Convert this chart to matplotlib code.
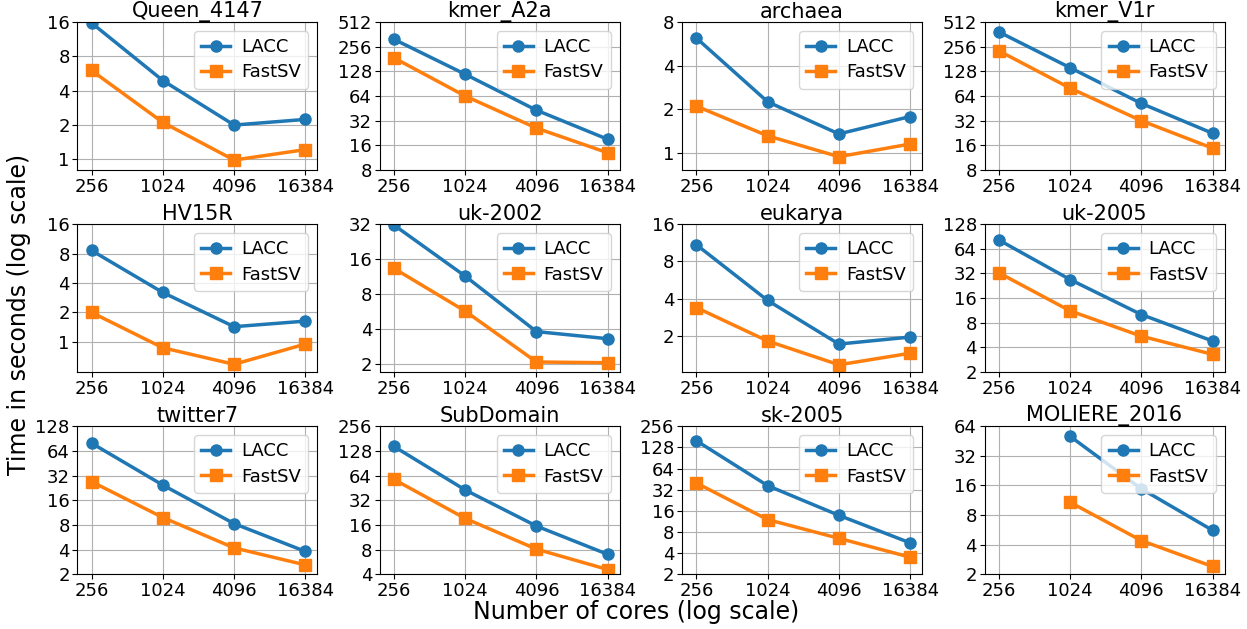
import numpy as np
import matplotlib
matplotlib.use("Agg")
import matplotlib.pyplot as plt
from matplotlib.ticker import FuncFormatter, NullLocator, FixedLocator

cores = [256, 1024, 4096, 16384]
graphs = ["Queen_4147", "kmer_A2a", "archaea", "kmer_V1r",
          "HV15R", "uk-2002", "eukarya", "uk-2005",
          "twitter7", "SubDomain", "sk-2005", "MOLIERE_2016"]

# seconds (nan = no run)
lacc_times = [
    [15.7, 4.9, 1.99, 2.23],
    [315, 118, 43, 19],
    [6.2, 2.25, 1.35, 1.78],
    [388, 142, 52, 22.5],
    [8.6, 3.2, 1.43, 1.63],
    [31.4, 11.4, 3.8, 3.3],
    [10.9, 3.87, 1.72, 1.96],
    [82, 27, 10.1, 4.8],
    [79.5, 24.5, 8.3, 3.8],
    [145, 42.7, 15.5, 7.0],
    [159, 36.5, 13.8, 5.6],
    [np.nan, 50.6, 14.8, 5.6],
]
fastsv_times = [
    [6.0, 2.1, 0.98, 1.21],
    [187, 64, 26, 13],
    [2.1, 1.31, 0.94, 1.15],
    [228, 80, 32, 14.8],
    [2.0, 0.87, 0.59, 0.95],
    [13.3, 5.7, 2.08, 2.05],
    [3.39, 1.82, 1.17, 1.45],
    [32.6, 11.2, 5.5, 3.3],
    [27, 9.85, 4.2, 2.6],
    [57.4, 19.2, 8.1, 4.57],
    [39.8, 12, 6.5, 3.5],
    [np.nan, 10.8, 4.4, 2.4],
]

# y range per panel
y_lims = [(0.80, 16), (8, 512), (0.76, 8), (8, 512),
          (0.49, 16), (1.7, 32), (1.02, 16), (2, 128),
          (2, 128), (4, 256), (2, 256), (2, 64)]

plt.rcParams["font.size"] = 13

fig, axes = plt.subplots(3, 4, figsize=(12.47, 6.29), dpi=100)
fig.subplots_adjust(left=0.062, right=0.982, top=0.965, bottom=0.087,
                    wspace=0.26, hspace=0.365)

for i, ax in enumerate(axes.flat):
    ax.plot(cores, lacc_times[i], marker="o", color="#1f77b4", lw=2.5, ms=8, label="LACC")
    ax.plot(cores, fastsv_times[i], marker="s", color="#ff7f0e", lw=2.5, ms=8, label="FastSV")
    ax.set_xscale("log", base=2)
    ax.set_yscale("log", base=2)
    ax.set_xlim(194, 20700)
    lo, hi = y_lims[i]
    ax.set_ylim(lo, hi)
    ticks = [2.0 ** k for k in range(0, 12) if lo <= 2.0 ** k <= hi]
    ax.yaxis.set_major_locator(FixedLocator(ticks))
    ax.yaxis.set_minor_locator(NullLocator())
    ax.xaxis.set_major_locator(FixedLocator(cores))
    ax.xaxis.set_minor_locator(NullLocator())
    fmt = FuncFormatter(lambda v, p: "%d" % v)
    ax.yaxis.set_major_formatter(fmt)
    ax.xaxis.set_major_formatter(fmt)
    ax.grid(True, color="#b0b0b0", lw=0.8)
    ax.set_title(graphs[i], fontsize=15, pad=3)
    ax.tick_params(labelsize=13, pad=2)
    ax.legend(loc="upper right", fontsize=13, handlelength=1.6,
              borderpad=0.4, labelspacing=0.4, handletextpad=0.6)

fig.text(0.015, 0.5, "Time in seconds (log scale)", rotation=90,
         ha="center", va="center", fontsize=17)
fig.text(0.51, 0.027, "Number of cores (log scale)", ha="center", va="center", fontsize=17)

plt.savefig("out.png", dpi=100)
